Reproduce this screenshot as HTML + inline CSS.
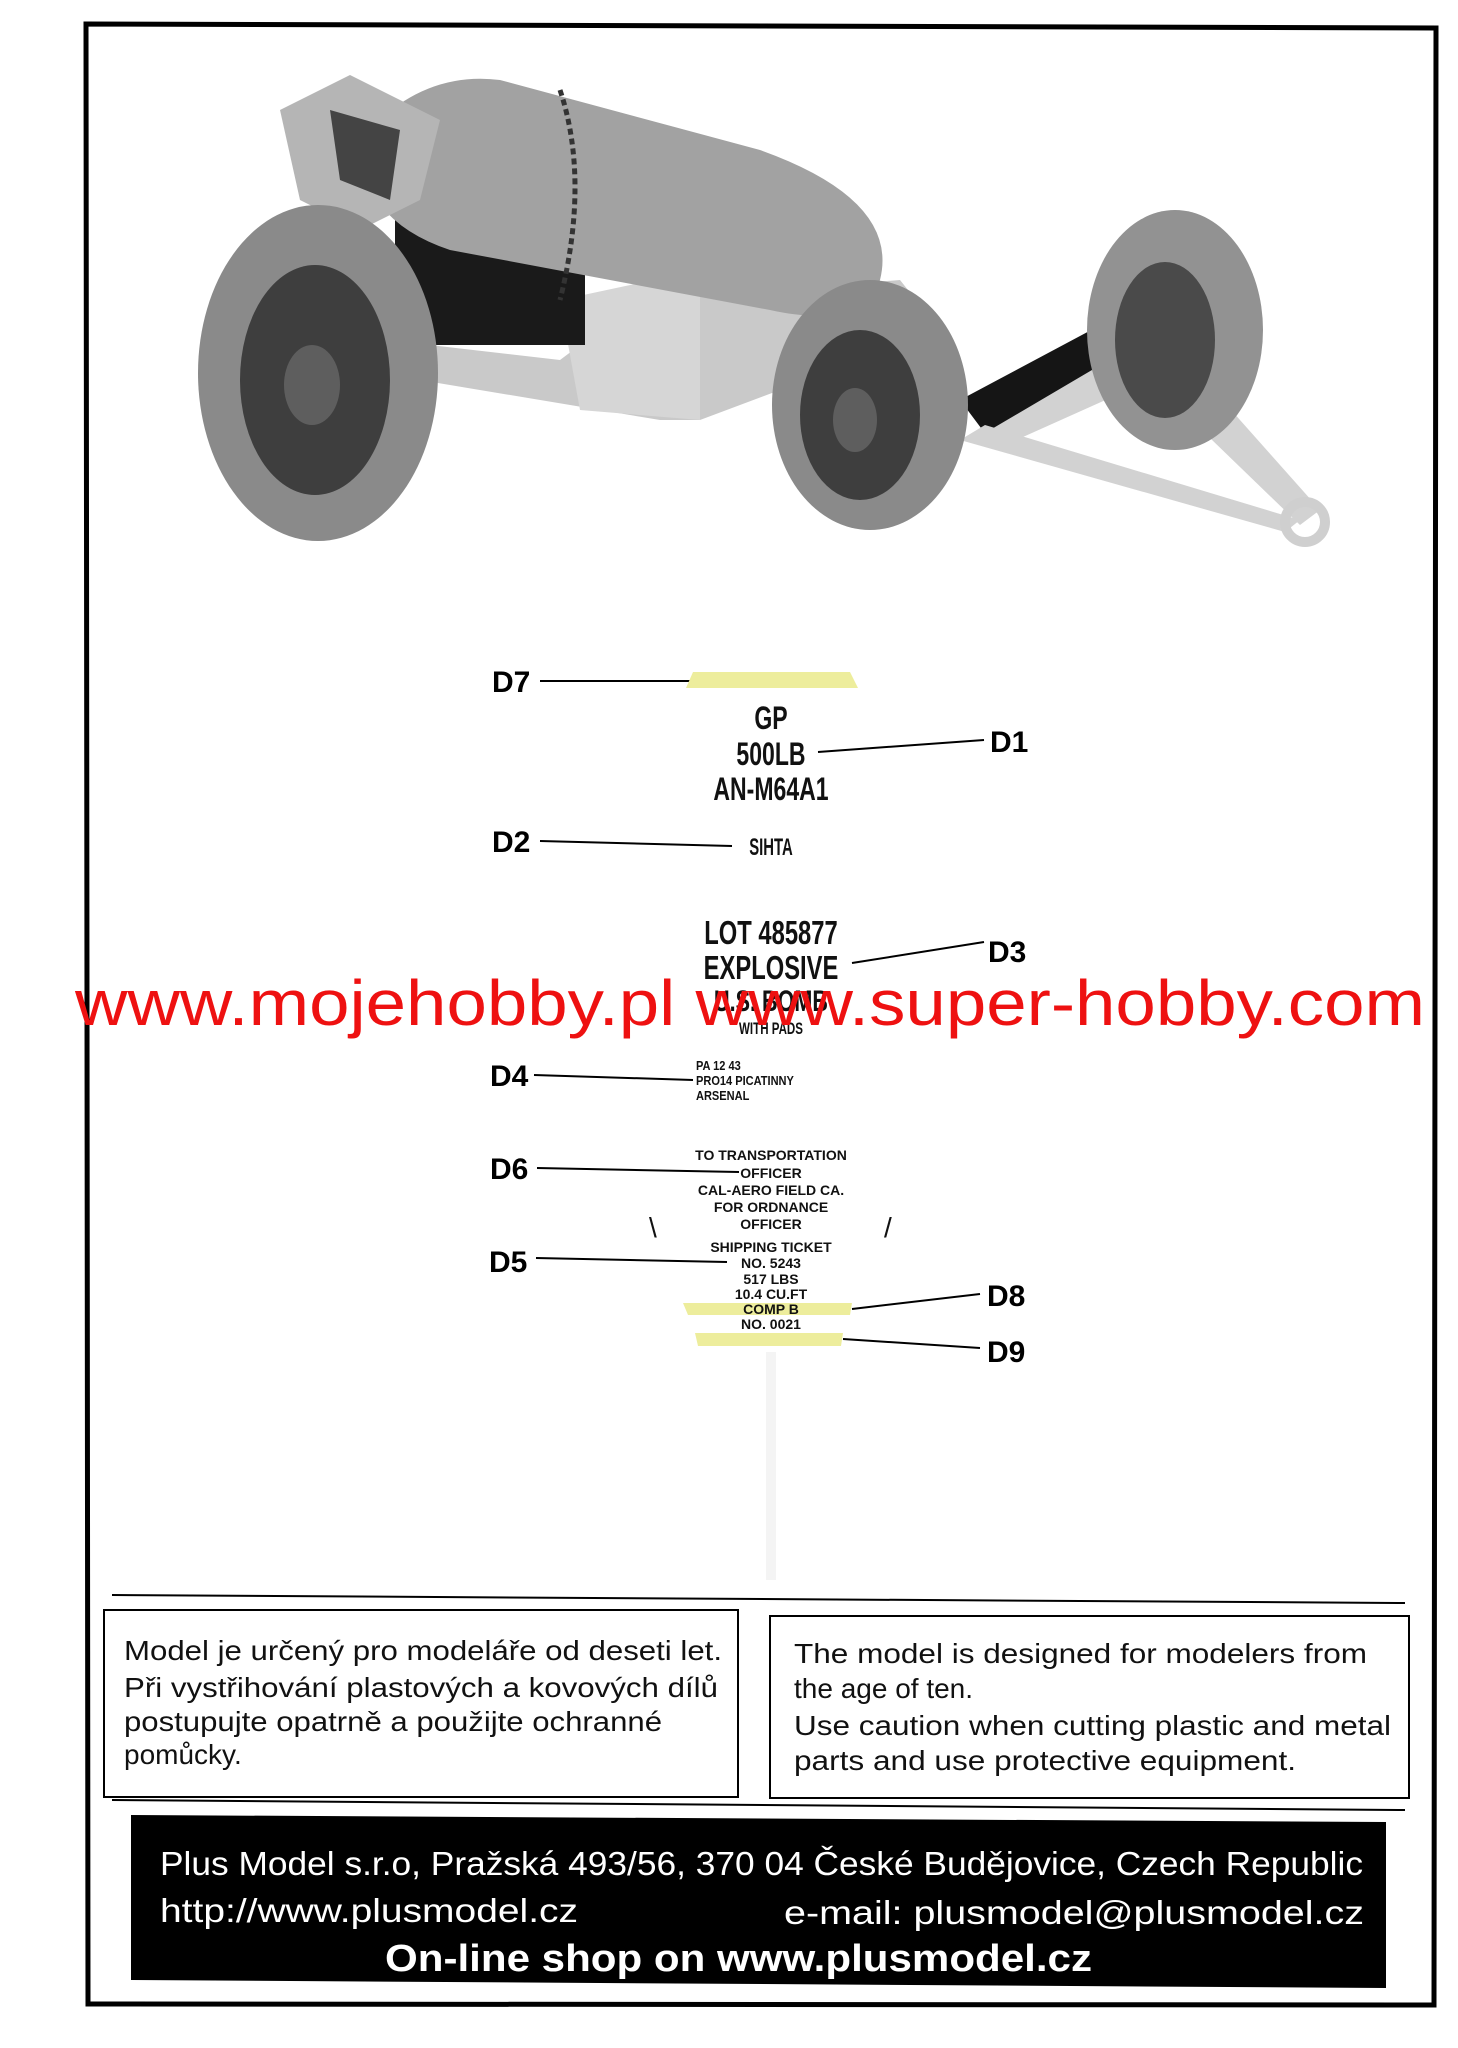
<!DOCTYPE html>
<html><head><meta charset="utf-8"><style>
html,body{margin:0;padding:0;background:#fff;}
svg{display:block;}
.lbl{font-family:"Liberation Sans",sans-serif;font-weight:bold;font-size:30px;fill:#000;}
.st{font-family:"Liberation Sans",sans-serif;font-weight:bold;fill:#111;}
.sm{font-family:"Liberation Sans",sans-serif;fill:#111;}
</style></head><body>
<svg width="1458" height="2048" viewBox="0 0 1458 2048" xmlns="http://www.w3.org/2000/svg">
<rect width="1458" height="2048" fill="#fff"/>
<path d="M86 24 L1436 28 L1434 2005 L88 2004 Z" fill="none" stroke="#000" stroke-width="5"/>

<g>
  <polygon points="300,330 560,360 640,300 900,280 940,330 700,420 660,420 420,380" fill="#c9c9c9"/>
  <polygon points="560,300 700,270 700,420 580,410" fill="#d6d6d6"/>
  <rect x="395" y="215" width="190" height="130" fill="#1a1a1a"/>
  <path d="M360 140 Q420 70 500 80 L760 150 Q900 200 880 280 Q860 330 770 310 L450 250 Q360 220 360 140 Z" fill="#a2a2a2"/>
  <path d="M280 110 L350 75 L440 120 L420 200 L360 230 L300 200 Z" fill="#b5b5b5"/>
  <path d="M330 110 L400 130 L390 200 L340 180 Z" fill="#444"/>
  <polygon points="960,400 1110,320 1140,360 990,440" fill="#151515"/>
  <polygon points="990,430 1160,330 1320,510 1300,525 1150,380 1005,445" fill="#d2d2d2"/>
  <polygon points="960,440 985,425 1300,520 1285,532" fill="#d2d2d2"/>
  <circle cx="1305" cy="522" r="20" fill="none" stroke="#cfcfcf" stroke-width="10"/>
  <ellipse cx="1175" cy="330" rx="88" ry="120" fill="#929292"/>
  <ellipse cx="1165" cy="340" rx="50" ry="78" fill="#4a4a4a"/>
  <ellipse cx="318" cy="373" rx="120" ry="168" fill="#8a8a8a"/>
  <ellipse cx="315" cy="380" rx="75" ry="115" fill="#3e3e3e"/>
  <ellipse cx="312" cy="385" rx="28" ry="40" fill="#5e5e5e"/>
  <ellipse cx="870" cy="405" rx="98" ry="125" fill="#8a8a8a"/>
  <ellipse cx="860" cy="415" rx="60" ry="85" fill="#3e3e3e"/>
  <ellipse cx="855" cy="420" rx="22" ry="32" fill="#5e5e5e"/>
  <path d="M560 90 Q590 180 560 300" stroke="#333" stroke-width="5" fill="none" stroke-dasharray="6 4"/>
</g>

<text class="lbl" x="492" y="692">D7</text>
<line x1="540" y1="681" x2="695" y2="681" stroke="#000" stroke-width="2"/>
<polygon points="693,672 850,672 858,688 686,688" fill="#eded9c"/>

<g class="st" text-anchor="middle">
<text x="771" y="729" font-size="32" transform="translate(771 0) scale(0.72 1) translate(-771 0)">GP</text>
<text x="771" y="765" font-size="32" transform="translate(771 0) scale(0.72 1) translate(-771 0)">500LB</text>
<text x="771" y="800" font-size="32" transform="translate(771 0) scale(0.72 1) translate(-771 0)">AN-M64A1</text>
<text x="771" y="855" font-size="24" transform="translate(771 0) scale(0.62 1) translate(-771 0)">SIHTA</text>
<text x="771" y="944" font-size="33" transform="translate(771 0) scale(0.72 1) translate(-771 0)">LOT 485877</text>
<text x="771" y="979" font-size="33" transform="translate(771 0) scale(0.72 1) translate(-771 0)">EXPLOSIVE</text>
<text x="771" y="1011" font-size="30" transform="translate(771 0) scale(0.72 1) translate(-771 0)">U.S. BOMB</text>
<text x="771" y="1034" font-size="17" transform="translate(771 0) scale(0.68 1) translate(-771 0)">WITH PADS</text>
</g>
<g class="st" font-size="13" font-weight="normal">
<text x="696" y="1070" transform="translate(696 0) scale(0.85 1) translate(-696 0)">PA 12 43</text>
<text x="696" y="1085" transform="translate(696 0) scale(0.85 1) translate(-696 0)">PRO14 PICATINNY</text>
<text x="696" y="1100" transform="translate(696 0) scale(0.85 1) translate(-696 0)">ARSENAL</text>
</g>
<g class="st" font-size="14" font-weight="normal" text-anchor="middle">
<text x="771" y="1160">TO TRANSPORTATION</text>
<text x="771" y="1178">OFFICER</text>
<text x="771" y="1195">CAL-AERO FIELD CA.</text>
<text x="771" y="1212">FOR ORDNANCE</text>
<text x="771" y="1229">OFFICER</text>
<text x="771" y="1252">SHIPPING TICKET</text>
<text x="771" y="1268">NO. 5243</text>
<text x="771" y="1284">517 LBS</text>
<text x="771" y="1299">10.4 CU.FT</text>
<text x="771" y="1329">NO. 0021</text>
</g>
<text x="649" y="1237" font-family="Liberation Sans" font-size="28" fill="#111">\</text>
<text x="884" y="1237" font-family="Liberation Sans" font-size="28" fill="#111">/</text>

<polygon points="683,1303 852,1303 850,1315 688,1315" fill="#eded9c"/>
<text x="771" y="1314" class="st" font-size="14" text-anchor="middle" fill="#333">COMP B</text>
<polygon points="695,1333 843,1333 841,1346 698,1346" fill="#eded9c"/>
<line x1="771" y1="1352" x2="771" y2="1580" stroke="#f4f4f4" stroke-width="10"/>

<text class="lbl" x="990" y="752">D1</text>
<line x1="818" y1="752" x2="984" y2="740" stroke="#000" stroke-width="2"/>
<text class="lbl" x="492" y="852">D2</text>
<line x1="540" y1="841" x2="732" y2="846" stroke="#000" stroke-width="2"/>
<text class="lbl" x="988" y="962">D3</text>
<line x1="852" y1="963" x2="984" y2="942" stroke="#000" stroke-width="2"/>
<text class="lbl" x="490" y="1086">D4</text>
<line x1="534" y1="1075" x2="693" y2="1080" stroke="#000" stroke-width="2"/>
<text class="lbl" x="490" y="1179">D6</text>
<line x1="537" y1="1168" x2="739" y2="1172" stroke="#000" stroke-width="2"/>
<text class="lbl" x="489" y="1272">D5</text>
<line x1="536" y1="1258" x2="727" y2="1262" stroke="#000" stroke-width="2"/>
<text class="lbl" x="987" y="1306">D8</text>
<line x1="852" y1="1309" x2="980" y2="1294" stroke="#000" stroke-width="2"/>
<text class="lbl" x="987" y="1362">D9</text>
<line x1="843" y1="1339" x2="980" y2="1348" stroke="#000" stroke-width="2"/>

<text x="75" y="1025" font-family="Liberation Sans" font-size="64" fill="#ee1111" textLength="1350" lengthAdjust="spacingAndGlyphs">www.mojehobby.pl www.super-hobby.com</text>

<line x1="112" y1="1595" x2="1405" y2="1603" stroke="#000" stroke-width="2"/>
<rect x="104" y="1610" width="634" height="187" fill="none" stroke="#000" stroke-width="2"/>
<rect x="770" y="1616" width="639" height="182" fill="none" stroke="#000" stroke-width="2"/>
<g class="sm" font-size="28">
<text x="124" y="1660" textLength="598" lengthAdjust="spacingAndGlyphs">Model je určený pro modeláře od deseti let.</text>
<text x="124" y="1697" textLength="594" lengthAdjust="spacingAndGlyphs">Při vystřihování plastových a kovových dílů</text>
<text x="124" y="1731" textLength="538" lengthAdjust="spacingAndGlyphs">postupujte opatrně a použijte ochranné</text>
<text x="124" y="1764">pomůcky.</text>
<text x="794" y="1663" textLength="573" lengthAdjust="spacingAndGlyphs">The model is designed for modelers from</text>
<text x="794" y="1698">the age of ten.</text>
<text x="794" y="1735" textLength="597" lengthAdjust="spacingAndGlyphs">Use caution when cutting plastic and metal</text>
<text x="794" y="1770" textLength="502" lengthAdjust="spacingAndGlyphs">parts and use protective equipment.</text>
</g>
<line x1="112" y1="1800" x2="1405" y2="1810" stroke="#000" stroke-width="2"/>
<polygon points="131,1815 1386,1822 1386,1988 131,1980" fill="#000"/>
<g class="sm" fill="#fff" font-size="33">
<text x="160" y="1875" fill="#fff" textLength="1203" lengthAdjust="spacingAndGlyphs">Plus Model s.r.o,  Pražská 493/56, 370 04 České Budějovice,  Czech Republic</text>
<text x="160" y="1922" fill="#fff" textLength="418" lengthAdjust="spacingAndGlyphs">http://www.plusmodel.cz</text>
<text x="784" y="1924" fill="#fff" textLength="580" lengthAdjust="spacingAndGlyphs">e-mail: plusmodel@plusmodel.cz</text>
<text x="385" y="1971" fill="#fff" font-weight="bold" font-size="38" textLength="707" lengthAdjust="spacingAndGlyphs">On-line shop on www.plusmodel.cz</text>
</g>
</svg>
</body></html>
